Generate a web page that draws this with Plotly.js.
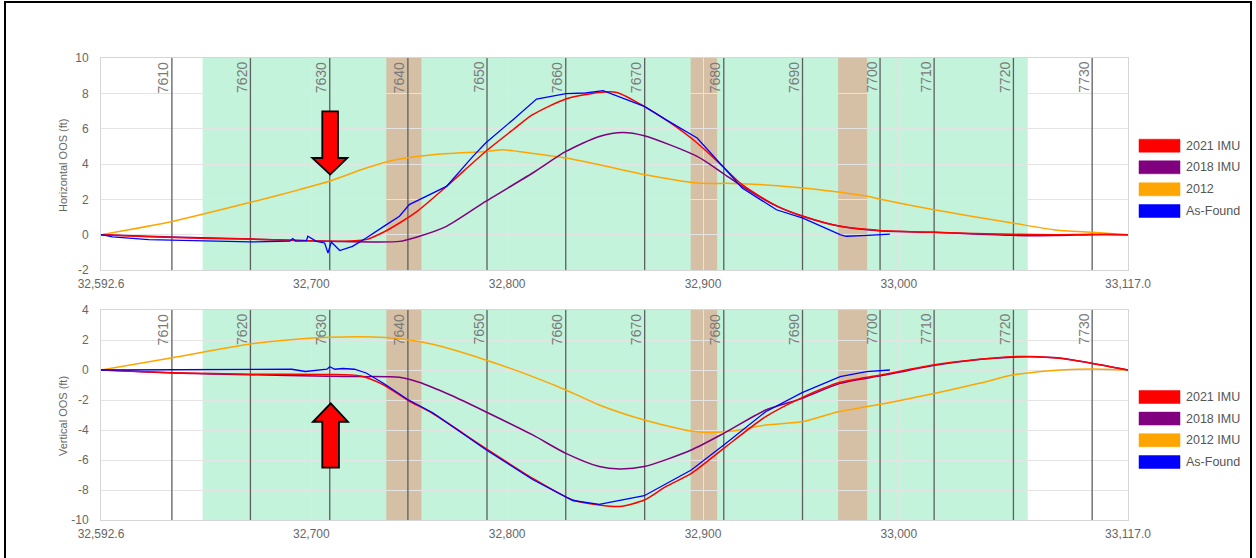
<!DOCTYPE html>
<html>
<head>
<meta charset="utf-8">
<script src="https://cdn.plot.ly/plotly-3.0.1.min.js"></script>
<style>
  html, body { margin: 0; padding: 0; background: #fff; }
  #wrap { position: relative; width: 1256px; height: 558px; overflow: hidden; }
  #chart { position: absolute; left: 0; top: 0; width: 1256px; height: 558px; }
  #frame { position: absolute; left: 4px; top: 1px; width: 1244px; height: 600px;
           border: 2.5px solid #000; pointer-events: none; }
</style>
</head>
<body>
<div id="wrap">
  <div id="chart"></div>
  <div id="frame"></div>
</div>
<script>
// ---------- DATA ----------
const xRange = [32592.6, 33117.0];
const xTickVals = [32592.6, 32700, 32800, 32900, 33000, 33117.0];
const xTickText = ['32,592.6', '32,700', '32,800', '32,900', '33,000', '33,117.0'];
const hTickVals = [-2, 0, 2, 4, 6, 8, 10];
const hTickText = ['-2', '0', '2', '4', '6', '8', '10'];
const vTickVals = [-10, -8, -6, -4, -2, 0, 2, 4];
const vTickText = ['-10', '-8', '-6', '-4', '-2', '0', '2', '4'];

const stationLabels = ['7610','7620','7630','7640','7650','7660','7670','7680','7690','7700','7710','7720','7730'];
const stationPos = [32628.8, 32668.9, 32709.4, 32749.3, 32789.7, 32829.9, 32870.2, 32910.6, 32950.8, 32990.4, 33018.0, 33058.5, 33098.7];

const greenZone = [32644.5, 33065.8];
const brownZones = [[32738.3, 32756.2], [32893.7, 32907.2], [32969.0, 32983.8]];

// Horizontal OOS (ft)
const hX2021 = [32592.6, 32617, 32643, 32669, 32694, 32709, 32728, 32737, 32745, 32754, 32769, 32789, 32803, 32813, 32830, 32847, 32856, 32870, 32883, 32897, 32910, 32920, 32938, 32951, 32970, 32990, 33000, 33018, 33058, 33080, 33099, 33117];
const hY2021 = [0, -0.12, -0.2, -0.25, -0.33, -0.37, -0.28, 0.15, 0.66, 1.32, 2.73, 4.71, 5.94, 6.79, 7.68, 8.05, 8.05, 7.26, 6.35, 5.19, 3.87, 2.83, 1.6, 1.04, 0.47, 0.24, 0.19, 0.13, 0.02, 0.0, 0.03, 0];

const hX2018 = [32592.6, 32629, 32669, 32709, 32745, 32754, 32769, 32789, 32813, 32830, 32847, 32859, 32870, 32897, 32910, 32920, 32938, 32951, 32970, 32990, 33018, 33058, 33080, 33099, 33117];
const hY2018 = [0, -0.13, -0.25, -0.37, -0.38, -0.13, 0.47, 1.88, 3.49, 4.71, 5.56, 5.79, 5.6, 4.43, 3.49, 2.73, 1.6, 1.04, 0.47, 0.22, 0.13, -0.04, -0.05, 0, 0];

const hX2012 = [32592.6, 32629, 32669, 32694, 32709, 32728, 32743, 32762, 32789, 32798, 32813, 32830, 32847, 32870, 32897, 32915, 32938, 32951, 32970, 32984, 32990, 33018, 33058, 33079, 33099, 33117];
const hY2012 = [0, 0.75, 1.83, 2.55, 3.02, 3.77, 4.24, 4.53, 4.71, 4.8, 4.6, 4.34, 3.96, 3.4, 2.92, 2.9, 2.77, 2.64, 2.4, 2.17, 2.02, 1.41, 0.66, 0.28, 0.13, 0];

const hXFound = [32592.6, 32598.5, 32617, 32643, 32669, 32689, 32690.5, 32692, 32697.5, 32698.2, 32702.6, 32706.8, 32708.5, 32710.2, 32714.5, 32721, 32728, 32737, 32745, 32750, 32759, 32769, 32782.5, 32789, 32803, 32815, 32830, 32840, 32849, 32870, 32881, 32897, 32910, 32920, 32937.5, 32951, 32970, 32973, 32984, 32995.4];
const hYFound = [0, -0.13, -0.28, -0.34, -0.41, -0.37, -0.22, -0.36, -0.34, -0.09, -0.38, -0.47, -1.04, -0.42, -0.9, -0.66, -0.19, 0.47, 1.04, 1.7, 2.17, 2.73, 4.43, 5.19, 6.51, 7.68, 7.98, 8.02, 8.15, 7.26, 6.51, 5.47, 3.87, 2.64, 1.41, 0.94, 0, -0.09, -0.04, 0.03];

// Vertical OOS (ft)
const vX2021 = [32592.6, 32629, 32669, 32709, 32725, 32737, 32749, 32762, 32789, 32813, 32833.5, 32847, 32857.5, 32870, 32881, 32894, 32910.6, 32932, 32950.6, 32970, 32990, 33000, 33017.5, 33041, 33058, 33067, 33082, 33099, 33117];
const vY2021 = [0, -0.18, -0.28, -0.3, -0.4, -1.0, -2.0, -2.9, -5.22, -7.22, -8.67, -9.0, -9.1, -8.67, -7.78, -6.89, -5.22, -3.11, -1.84, -0.82, -0.35, -0.1, 0.33, 0.71, 0.89, 0.9, 0.78, 0.44, 0];

const vX2018 = [32592.6, 32629, 32669, 32709, 32725, 32745, 32755, 32771, 32789, 32813, 32830, 32847, 32857.5, 32870, 32894, 32910.6, 32932, 32950.6, 32970, 32990, 33000, 33017.5, 33041, 33058, 33067, 33082, 33099, 33117];
const vY2018 = [0, -0.2, -0.32, -0.42, -0.44, -0.49, -0.82, -1.67, -2.78, -4.33, -5.56, -6.44, -6.6, -6.44, -5.33, -4.22, -2.67, -1.89, -0.89, -0.4, -0.15, 0.3, 0.7, 0.85, 0.88, 0.8, 0.44, 0];

const vX2012 = [32592.6, 32629, 32669, 32685, 32709, 32738, 32750, 32762, 32789, 32813, 32830, 32847, 32870, 32894, 32903, 32915, 32932, 32951, 32969, 32984, 33000, 33018, 33041, 33058, 33067, 33082, 33099, 33117];
const vY2012 = [0, 0.82, 1.73, 1.96, 2.18, 2.17, 2.0, 1.71, 0.67, -0.44, -1.33, -2.33, -3.33, -4.07, -4.16, -4.07, -3.67, -3.44, -2.78, -2.44, -2.05, -1.56, -0.89, -0.33, -0.18, 0, 0.07, 0];

const vXFound = [32592.6, 32629, 32669, 32690, 32697, 32702, 32708, 32709.4, 32712, 32716, 32722, 32728, 32737, 32749, 32762, 32789, 32813, 32833.5, 32847, 32870, 32894, 32910.6, 32932, 32950.6, 32970, 32983.5, 32995.4];
const vYFound = [0, 0.02, 0.03, 0.05, -0.1, -0.02, 0.05, 0.22, 0.05, 0.1, 0.05, -0.2, -0.9, -1.95, -2.85, -5.3, -7.3, -8.7, -8.96, -8.38, -6.67, -5.0, -2.78, -1.51, -0.44, -0.11, 0.0];

const legendTop = ['2021 IMU', '2018 IMU', '2012', 'As-Found'];
const legendBottom = ['2021 IMU', '2018 IMU', '2012 IMU', 'As-Found'];

// ---------- STYLE ----------
const C_RED = '#ff0000', C_PURPLE = '#800080', C_ORANGE = '#ffa500', C_BLUE = '#0000ff';
const seriesColors = [C_RED, C_PURPLE, C_ORANGE, C_BLUE];
const FONT = 'Liberation Sans, Arial, sans-serif';
const W = 1256, H = 558, ML = 101, MR = 128, MT = 58, MB = 38;
const PW = W - ML - MR, PH = H - MT - MB;
const pxX = p => (p - ML) / PW;
const pxY = p => (H - MB - p) / PH;

function line(x, y, color, xa, ya, w, smooth) {
  const ln = { color: color, width: w || 1.5 };
  if (smooth) { ln.shape = 'spline'; ln.smoothing = 0.7; }
  return { type: 'scatter', mode: 'lines', x: x, y: y, xaxis: xa, yaxis: ya,
           line: ln, hoverinfo: 'skip', showlegend: false };
}

// station marker lines as traces (below the data lines, above the grid)
function stationTrace(xa, ya, yr) {
  const xs = [], ys = [];
  stationPos.forEach(s => { xs.push(s, s, null); ys.push(yr[0], yr[1], null); });
  return { type: 'scatter', mode: 'lines', x: xs, y: ys, xaxis: xa, yaxis: ya,
           line: { color: '#5e5e5e', width: 1.3 }, hoverinfo: 'skip', showlegend: false, connectgaps: false };
}

const hRange = [-2, 10], vRange = [-10, 4];

const traces = [
  stationTrace('x', 'y', hRange),
  line(hX2012, hY2012, C_ORANGE, 'x', 'y', 1.5, true),
  line(hX2018, hY2018, C_PURPLE, 'x', 'y', 1.5, true),
  line(hX2021, hY2021, C_RED, 'x', 'y', 1.5, true),
  line(hXFound, hYFound, C_BLUE, 'x', 'y', 1.3, false),
  stationTrace('x2', 'y2', vRange),
  line(vX2012, vY2012, C_ORANGE, 'x2', 'y2', 1.5, true),
  line(vX2018, vY2018, C_PURPLE, 'x2', 'y2', 1.5, true),
  line(vX2021, vY2021, C_RED, 'x2', 'y2', 1.5, true),
  line(vXFound, vYFound, C_BLUE, 'x2', 'y2', 1.3, false)
];

const shapes = [];
const annotations = [];
const GREEN = '#c3f3db', BROWN = '#d5bfa5';

[['x', 'y', hRange], ['x2', 'y2', vRange]].forEach(([xa, ya, yr]) => {
  shapes.push({ type: 'rect', xref: xa, yref: ya, x0: greenZone[0], x1: greenZone[1], y0: yr[0], y1: yr[1],
                fillcolor: GREEN, line: { width: 0 }, layer: 'below' });
  brownZones.forEach(z => shapes.push({ type: 'rect', xref: xa, yref: ya, x0: z[0], x1: z[1], y0: yr[0], y1: yr[1],
                fillcolor: BROWN, line: { width: 0 }, layer: 'below' }));
  stationPos.forEach((s, i) => {
    annotations.push({ xref: xa, yref: ya, x: s, y: yr[1], xanchor: 'right', yanchor: 'top',
                       xshift: 1, yshift: -2, textangle: -90, showarrow: false, text: stationLabels[i],
                       font: { family: FONT, size: 14, color: '#7a7a7a' } });
  });
});

// red arrows
shapes.push({ type: 'path', xref: 'x', yref: 'y', layer: 'above',
  path: 'M32705.6,6.98 L32713.6,6.98 L32713.6,4.34 L32718.4,4.34 L32709.6,3.40 L32700.5,4.34 L32705.6,4.34 Z',
  fillcolor: '#ff0000', line: { color: '#000', width: 1.8 } });
shapes.push({ type: 'path', xref: 'x2', yref: 'y2', layer: 'above',
  path: 'M32705.6,-6.51 L32714.1,-6.51 L32714.1,-3.45 L32718.7,-3.45 L32709.9,-2.22 L32700.8,-3.45 L32705.6,-3.45 Z',
  fillcolor: '#ff0000', line: { color: '#000', width: 1.8 } });

// legends (manual)
function legend(names, rowCenters) {
  names.forEach((n, i) => {
    const cy = rowCenters[i];
    shapes.push({ type: 'rect', xref: 'paper', yref: 'paper', x0: pxX(1139), x1: pxX(1180),
                  y0: pxY(cy + 6.5), y1: pxY(cy - 6.5), fillcolor: seriesColors[i],
                  line: { color: seriesColors[i], width: 0.5 }, layer: 'above' });
    annotations.push({ xref: 'paper', yref: 'paper', x: pxX(1184), y: pxY(cy), xanchor: 'left', yanchor: 'middle',
                       showarrow: false, text: n, font: { family: FONT, size: 12.5, color: '#555' } });
  });
}
legend(legendTop, [145.7, 167.3, 189.3, 211]);
legend(legendBottom, [397, 418.6, 440.2, 462]);

// y-axis titles
annotations.push({ xref: 'paper', yref: 'paper', x: pxX(63), y: pxY(165), xanchor: 'center', yanchor: 'middle',
                   textangle: -90, showarrow: false, text: 'Horizontal OOS (ft)', font: { family: FONT, size: 11, color: '#666' } });
annotations.push({ xref: 'paper', yref: 'paper', x: pxX(63), y: pxY(416), xanchor: 'center', yanchor: 'middle',
                   textangle: -90, showarrow: false, text: 'Vertical OOS (ft)', font: { family: FONT, size: 11, color: '#666' } });

const xaxisBase = {
  range: xRange, autorange: false, tickmode: 'array', tickvals: xTickVals, ticktext: xTickText,
  showgrid: true, gridcolor: '#e4e4e4', gridwidth: 1, zeroline: false,
  showline: true, linecolor: '#d6d6d6', mirror: true, ticks: '', ticklabelstandoff: 3,
  tickfont: { family: FONT, size: 12, color: '#666' }
};
const yaxisBase = {
  autorange: false, tickmode: 'array', showgrid: true, gridcolor: '#e4e4e4', zeroline: false,
  showline: true, linecolor: '#d6d6d6', mirror: true, ticks: '', ticklabelstandoff: 9,
  tickfont: { family: FONT, size: 12, color: '#666' }
};

const layout = {
  width: W, height: H, margin: { l: ML, r: MR, t: MT, b: MB, pad: 0 },
  paper_bgcolor: 'rgba(0,0,0,0)', plot_bgcolor: '#fff', showlegend: false,
  xaxis: Object.assign({}, xaxisBase, { anchor: 'y' }),
  xaxis2: Object.assign({}, xaxisBase, { anchor: 'y2' }),
  yaxis: Object.assign({}, yaxisBase, { domain: [pxY(270), 1], range: hRange, anchor: 'x',
                                        tickvals: hTickVals, ticktext: hTickText }),
  yaxis2: Object.assign({}, yaxisBase, { domain: [0, pxY(310)], range: vRange, anchor: 'x2',
                                         tickvals: vTickVals, ticktext: vTickText }),
  shapes: shapes, annotations: annotations, font: { family: FONT }
};

Plotly.newPlot('chart', traces, layout, { staticPlot: true, displayModeBar: false });
</script>
</body>
</html>
